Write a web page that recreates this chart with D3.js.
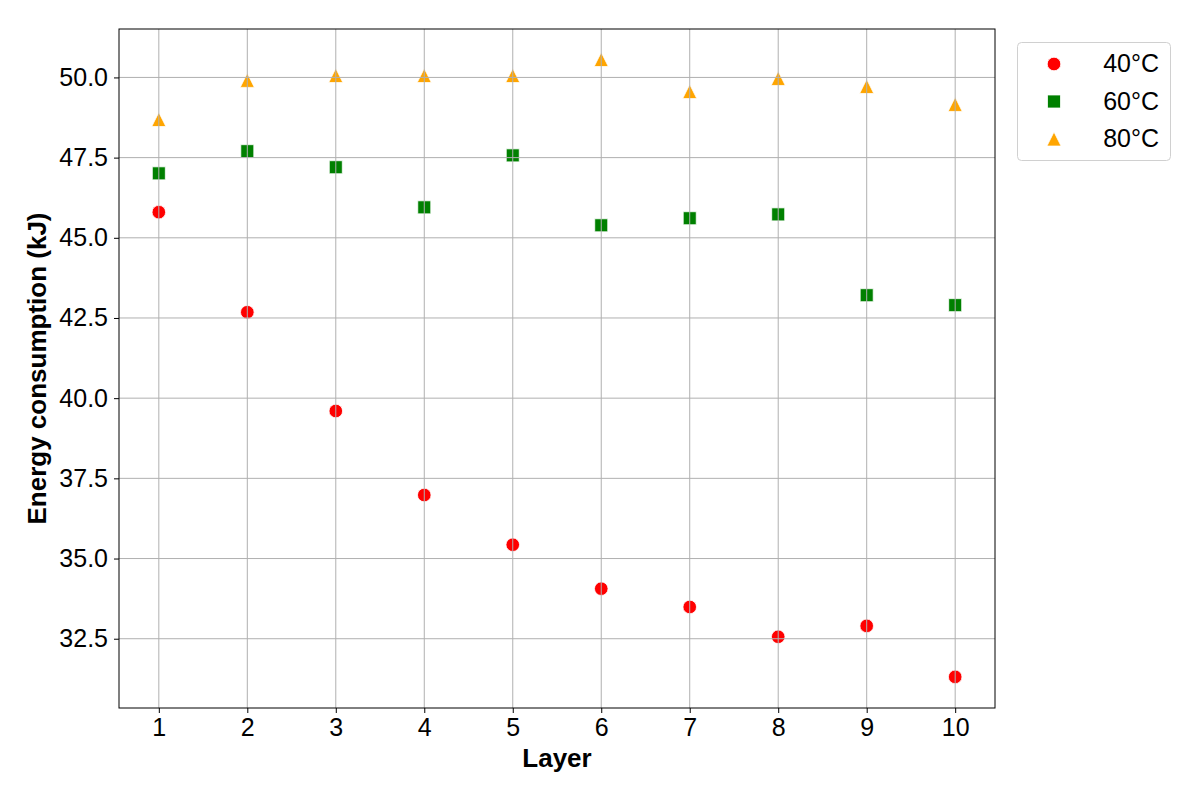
<!DOCTYPE html>
<html><head><meta charset="utf-8">
<script src="https://cdn.jsdelivr.net/npm/d3@7"></script>
<style>body{margin:0;background:#fff}svg{font-family:"Liberation Sans",Arial,sans-serif}</style>
</head><body><svg id="c" width="1200" height="800"></svg>
<script>
const layers = [1,2,3,4,5,6,7,8,9,10];
const s40 = [45.80,42.68,39.60,36.98,35.43,34.06,33.49,32.56,32.90,31.31];
const s60 = [47.01,47.70,47.20,45.95,47.57,45.39,45.61,45.73,43.21,42.90];
const s80 = [48.69,49.91,50.06,50.06,50.06,50.56,49.56,49.97,49.72,49.16];
const seriesNames = ["40°C","60°C","80°C"];
const colors = ["#ff0000","#008000","#ffa500"];
const yTicks = [32.5,35.0,37.5,40.0,42.5,45.0,47.5,50.0];

const svg = d3.select("#c");
const L=119,R=995,T=29,B=708;
const x = d3.scaleLinear().domain([0.55,10.45]).range([L,R]);
const y = d3.scaleLinear().domain([30.34,51.51]).range([B,T]);

const series = [s40,s60,s80];
const triBox = {draw(ctx,size){const s=Math.sqrt(size);ctx.moveTo(0,-s/2);ctx.lineTo(s/2,s/2);ctx.lineTo(-s/2,s/2);ctx.closePath();}};
const shapes = [d3.symbolCircle,d3.symbolSquare,triBox];
const sizes = [145,170,200];

// markers
series.forEach((s,i)=>{
  svg.append("g").selectAll("path").data(s).join("path")
    .attr("transform",(d,j)=>`translate(${x(layers[j])},${y(d)})`)
    .attr("d",d3.symbol().type(shapes[i]).size(sizes[i]))
    .attr("fill",colors[i]).attr("stroke","#fff").attr("stroke-width",0.8);
});

// grid on top
const grid = svg.append("g").attr("stroke","#b0b0b0").attr("stroke-width",1);
grid.selectAll("line.v").data(layers).join("line").attr("class","v")
  .attr("x1",d=>x(d)).attr("x2",d=>x(d)).attr("y1",T).attr("y2",B);
grid.selectAll("line.h").data(yTicks).join("line").attr("class","h")
  .attr("y1",d=>y(d)).attr("y2",d=>y(d)).attr("x1",L).attr("x2",R);

// frame
svg.append("rect").attr("x",L).attr("y",T).attr("width",R-L).attr("height",B-T)
  .attr("fill","none").attr("stroke","#000").attr("stroke-width",1);

// axes
const xa = svg.append("g").attr("transform",`translate(0,${B})`)
  .call(d3.axisBottom(x).tickValues(layers).tickFormat(d3.format("d")).tickSize(5).tickPadding(5));
const ya = svg.append("g").attr("transform",`translate(${L},0)`)
  .call(d3.axisLeft(y).tickValues(yTicks).tickFormat(d3.format(".1f")).tickSize(5).tickPadding(6));
[xa,ya].forEach(a=>{
  a.attr("font-size",null).attr("font-family",null);
  a.select(".domain").remove();
  a.selectAll("text").style("font-size","25px").style("fill","#000");
  a.selectAll("line").attr("stroke","#000");
});

svg.append("text").attr("x",(L+R)/2).attr("y",767).attr("text-anchor","middle")
  .style("font-size","26px").attr("font-weight","bold").text("Layer");
svg.append("text").attr("transform",`translate(46,${(T+B)/2}) rotate(-90)`).attr("text-anchor","middle")
  .style("font-size","26px").attr("font-weight","bold").text("Energy consumption (kJ)");

// legend
const lg = svg.append("g");
lg.append("rect").attr("x",1017.5).attr("y",42.5).attr("width",153).attr("height",118).attr("rx",4)
  .attr("fill","#fff").attr("stroke","#d0d0d0");
seriesNames.forEach((n,i)=>{
  const yy = 64+i*37.5;
  lg.append("path").attr("transform",`translate(1054,${yy})`)
    .attr("d",d3.symbol().type(shapes[i]).size(sizes[i])).attr("fill",colors[i]).attr("stroke","#fff").attr("stroke-width",0.8);
  lg.append("text").attr("x",1159).attr("y",yy+8).attr("text-anchor","end").style("font-size","25px").text(n);
});
</script></body></html>
